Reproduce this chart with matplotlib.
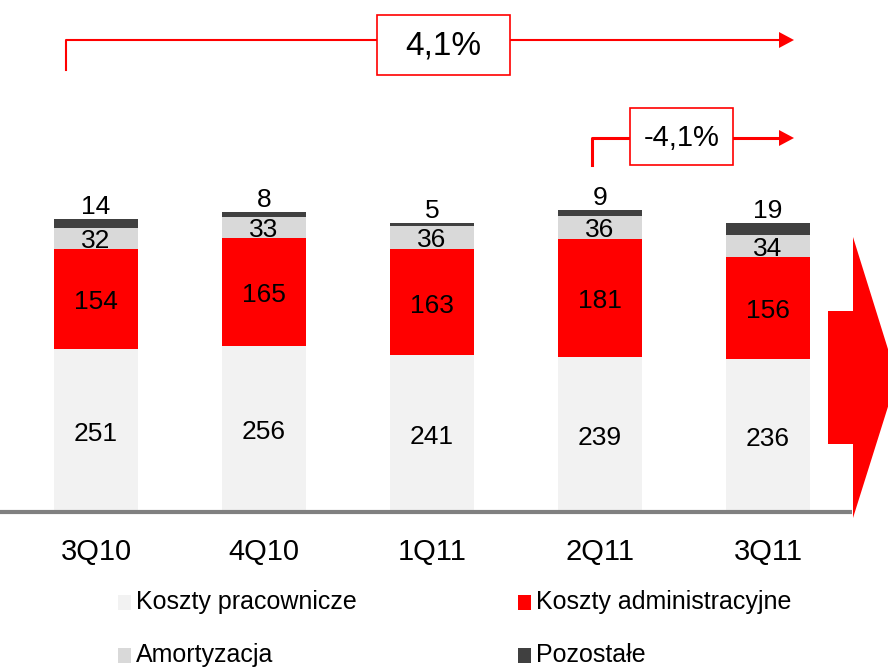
import matplotlib.pyplot as plt
from matplotlib.patches import Rectangle, Polygon
import numpy as np

plt.rcParams['font.family'] = ['Liberation Sans', 'DejaVu Sans']

quarters = ['3Q10', '4Q10', '1Q11', '2Q11', '3Q11']
pracownicze = [251, 256, 241, 239, 236]
administracyjne = [154, 165, 163, 181, 156]
amortyzacja = [32, 33, 36, 36, 34]
pozostale = [14, 8, 5, 9, 19]
series_names = ['Koszty pracownicze', 'Koszty administracyjne', 'Amortyzacja', 'Pozostałe']
series_colors = ['#F2F2F2', '#FF0000', '#D9D9D9', '#404040']
growth_labels = ['4,1%', '-4,1%']

fig = plt.figure(figsize=(8.88, 6.68), dpi=100)
ax = fig.add_axes([0, 0, 1, 1])
x = np.arange(len(quarters))
ax.set_xlim(-96 / 168, (888 - 96) / 168)
ax.set_ylim(-156 / 0.65, 512 / 0.65)
ax.axis('off')

bottom = np.zeros(len(quarters))
data = [pracownicze, administracyjne, amortyzacja, pozostale]
for vals, col in zip(data, series_colors):
    ax.bar(x, vals, width=0.495, bottom=bottom, color=col, edgecolor='none')
    bottom = bottom + np.array(vals)

for i in range(len(quarters)):
    b1 = pracownicze[i]
    b2 = b1 + administracyjne[i]
    b3 = b2 + amortyzacja[i]
    b4 = b3 + pozostale[i]
    ax.text(x[i], b1 / 2 - 5, str(pracownicze[i]), ha='center', va='center', fontsize=19)
    ax.text(x[i], b1 + administracyjne[i] / 2 - 5, str(administracyjne[i]), ha='center', va='center', fontsize=19)
    ax.text(x[i], b2 + amortyzacja[i] / 2 - 4, str(amortyzacja[i]), ha='center', va='center', fontsize=19)
    ax.text(x[i], b4 - 1, str(pozostale[i]), ha='center', va='bottom', fontsize=19)
    ax.text(x[i], -62, quarters[i], ha='center', va='center', fontsize=21)

# overlay in pixel coordinates for decorations
ov = fig.add_axes([0, 0, 1, 1])
ov.set_xlim(0, 888)
ov.set_ylim(668, 0)
ov.axis('off')
ov.patch.set_alpha(0)

ov.plot([0, 852], [512, 512], color='#808080', lw=3, solid_capstyle='butt')

red = '#FF0000'
# big bracket
ov.plot([66, 66, 780], [70, 40, 40], color=red, lw=1.5, zorder=1)
ov.add_patch(Polygon([[779, 32], [794, 40], [779, 48]], closed=True, color=red, lw=0))
ov.add_patch(Rectangle((377, 15), 133, 60, facecolor='white', edgecolor=red, lw=1.2, zorder=3))
ov.text(443.5, 46, growth_labels[0], ha='center', va='center', fontsize=24, zorder=4)
# small bracket
ov.plot([592, 592, 780], [165, 138, 138], color=red, lw=2.2, zorder=1)
ov.add_patch(Polygon([[779, 130], [794, 138], [779, 146]], closed=True, color=red, lw=0))
ov.add_patch(Rectangle((630, 108), 103, 57, facecolor='white', edgecolor=red, lw=1.2, zorder=3))
ov.text(681.5, 138, growth_labels[1], ha='center', va='center', fontsize=21, zorder=4)

# big right arrow
ov.add_patch(Polygon([[828, 311], [853, 311], [853, 237], [897, 378], [853, 518],
                      [853, 444], [828, 444]], closed=True, color=red, lw=0))

# legend
leg_pos = [(118, 602), (518, 602), (118, 655), (518, 655)]
for (lx, ly), name, col in zip(leg_pos, series_names, series_colors):
    ov.add_patch(Rectangle((lx, ly - 7), 13, 15, facecolor=col, edgecolor='none'))
    ov.text(lx + 18, ly, name, ha='left', va='center', fontsize=18)

fig.savefig('out.png', dpi=100)
